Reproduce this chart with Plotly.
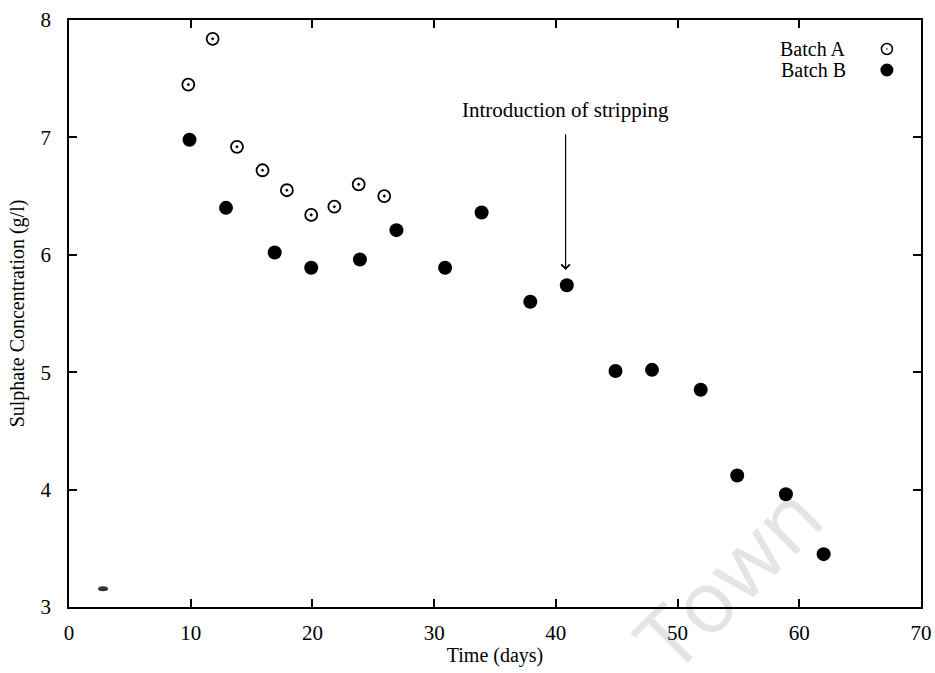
import base64
import plotly.graph_objects as go

# Sulphate concentration measurements (days, g/l)
batch_a_days = [9.8, 11.8, 13.8, 15.9, 17.9, 19.9, 21.8, 23.8, 25.9]
batch_a_conc = [7.45, 7.84, 6.92, 6.72, 6.55, 6.34, 6.41, 6.60, 6.50]

batch_b_days = [9.9, 12.9, 16.9, 19.9, 23.9, 26.9, 30.9, 33.9, 37.9, 40.9,
                44.9, 47.9, 51.9, 54.9, 58.9, 62.0]
batch_b_conc = [6.98, 6.40, 6.02, 5.89, 5.96, 6.21, 5.89, 6.36, 5.60, 5.74,
                5.01, 5.02, 4.85, 4.12, 3.96, 3.45]

series_names = ["Batch A", "Batch B"]
x_ticks = [0, 10, 20, 30, 40, 50, 60, 70]
y_ticks = [3, 4, 5, 6, 7, 8]

stripping_day = 40.8
stripping_label = "Introduction of stripping"

FONT = "Liberation Serif, Times New Roman, serif"
FS = 21
W, H = 935, 673
ML, MR, MT, MB = 69, 14, 20, 66
PW, PH = W - ML - MR, H - MT - MB

fig = go.Figure()

fig.add_trace(go.Scatter(
    x=batch_a_days, y=batch_a_conc, mode="markers", name=series_names[0],
    marker=dict(symbol="circle-open-dot", size=12, color="black",
                line=dict(width=1.8, color="black")),
    showlegend=False,
))
fig.add_trace(go.Scatter(
    x=batch_b_days, y=batch_b_conc, mode="markers", name=series_names[1],
    marker=dict(symbol="circle", size=14, color="black",
                line=dict(width=0)),
    showlegend=False,
))

axis_common = dict(
    showline=True, linecolor="black", linewidth=1.8, mirror="ticks",
    ticks="inside", ticklen=8, tickwidth=1.5, tickcolor="black",
    showgrid=False, zeroline=False, automargin=False,
    tickfont=dict(family=FONT, size=FS, color="black"),
)

fig.update_xaxes(
    range=[0, 70], tickvals=x_ticks, ticklabelstandoff=6,
    title=dict(text="Time (days)", font=dict(family=FONT, size=FS - 1, color="black"),
               standoff=4),
    **axis_common,
)
fig.update_yaxes(
    range=[3, 8], tickvals=y_ticks, ticklabelstandoff=12,
    title=dict(text="Sulphate Concentration (g/l)",
               font=dict(family=FONT, size=FS - 1, color="black"), standoff=10),
    **axis_common,
)

annotations = []
shapes = []

# hand-placed legend: labels on the left, symbols on the right
legend_rows = [(0.9506, series_names[0], "open"), (0.9148, series_names[1], "filled")]
for ypos, label, style in legend_rows:
    annotations.append(dict(
        x=0.914, y=ypos, xref="paper", yref="paper", text=label,
        showarrow=False, xanchor="right", yanchor="middle", height=20,
        font=dict(family=FONT, size=FS - 1, color="black"),
    ))
    r = 5.5 if style == "open" else 6.5
    shapes.append(dict(
        type="circle", xref="paper", yref="paper",
        xsizemode="pixel", ysizemode="pixel",
        xanchor=0.960, yanchor=ypos,
        x0=-r, x1=r, y0=-r, y1=r,
        line=dict(color="black", width=1.5 if style == "open" else 0),
        fillcolor="white" if style == "open" else "black",
    ))
    if style == "open":
        shapes.append(dict(
            type="circle", xref="paper", yref="paper",
            xsizemode="pixel", ysizemode="pixel",
            xanchor=0.960, yanchor=ypos,
            x0=-0.8, x1=0.8, y0=-0.8, y1=0.8,
            line=dict(width=0), fillcolor="black",
        ))

# arrow marking when stripping was introduced
annotations.append(dict(
    x=stripping_day, y=5.87, ax=stripping_day, ay=7.04,
    xref="x", yref="y", axref="x", ayref="y",
    showarrow=True, arrowhead=4, arrowsize=1.4, arrowwidth=1.2,
    arrowcolor="black", text="",
))
annotations.append(dict(
    x=stripping_day, y=7.23, xref="x", yref="y", text=stripping_label,
    showarrow=False, xanchor="center", yanchor="middle",
    font=dict(family=FONT, size=FS, color="black"),
))

# small scanner smudge near the lower-left corner
shapes.append(dict(
    type="circle", xref="paper", yref="paper",
    xsizemode="pixel", ysizemode="pixel",
    xanchor=0.040, yanchor=0.031,
    x0=-5, x1=5, y0=-2.5, y1=2.5,
    line=dict(width=0), fillcolor="#333333",
))

# faint diagonal watermark, laid under the axes as a full-page SVG
wm_svg = (
    f'<svg xmlns="http://www.w3.org/2000/svg" width="{W}" height="{H}" '
    f'viewBox="0 0 {W} {H}">'
    f'<text x="727" y="576" transform="rotate(-45 727 576)" '
    f'text-anchor="middle" dominant-baseline="central" '
    f'font-family="Open Sans, sans-serif" font-size="86" fill="#e4e4e4">Town</text>'
    f'</svg>'
)
wm_uri = "data:image/svg+xml;base64," + base64.b64encode(wm_svg.encode()).decode()

fig.update_layout(
    width=W, height=H,
    margin=dict(l=ML, r=MR, t=MT, b=MB),
    paper_bgcolor="white", plot_bgcolor="rgba(0,0,0,0)",
    annotations=annotations, shapes=shapes,
    font=dict(family=FONT, color="black"),
    images=[dict(
        source=wm_uri, xref="paper", yref="paper",
        x=-ML / PW, y=1 + MT / PH, sizex=W / PW, sizey=H / PH,
        xanchor="left", yanchor="top", sizing="stretch", layer="below",
    )],
)

fig.write_html("out.html")
